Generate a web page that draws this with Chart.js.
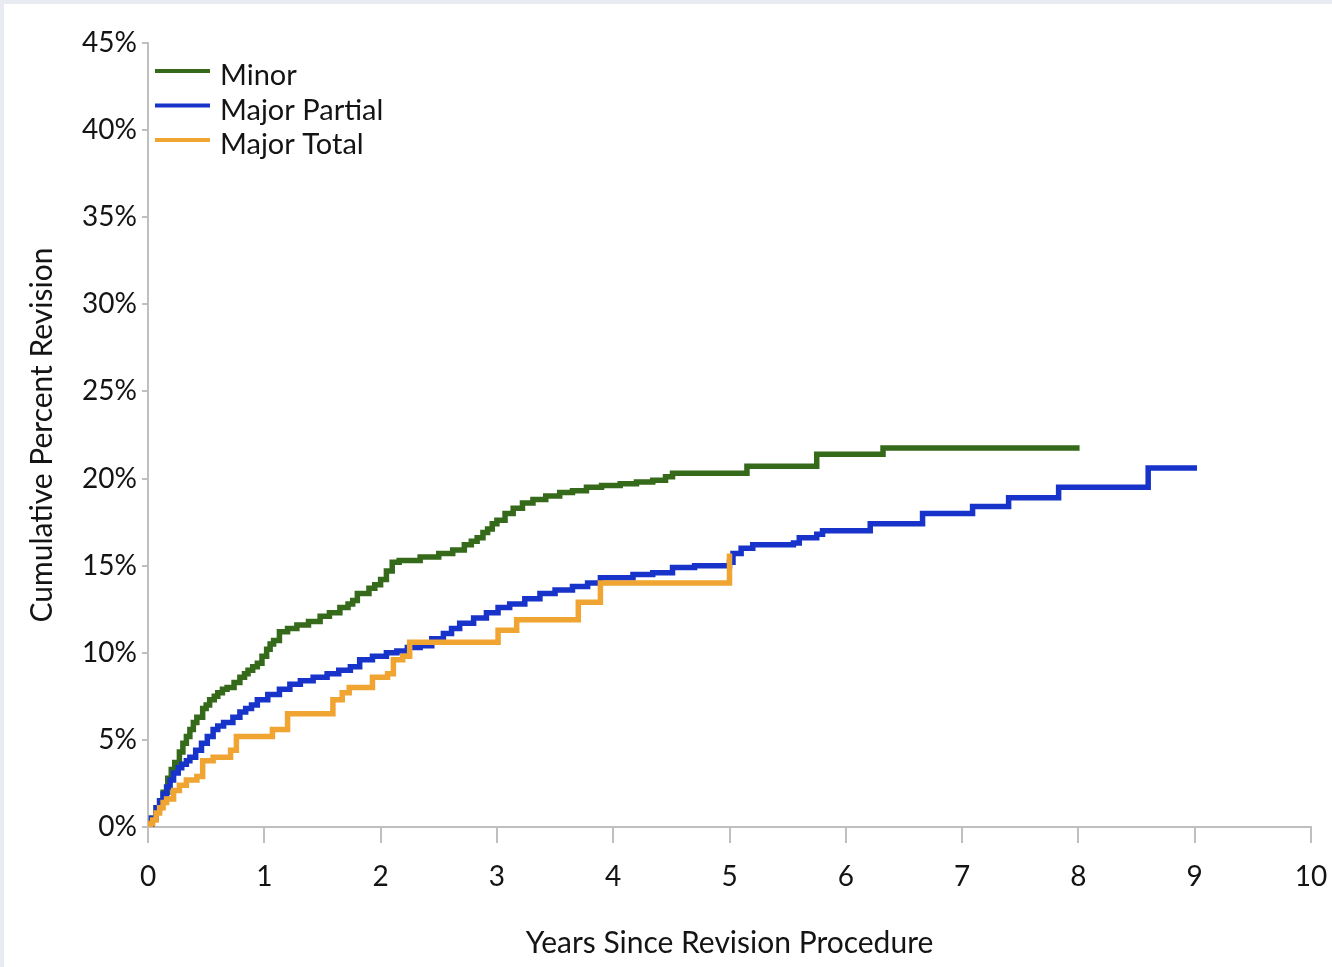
<!DOCTYPE html>
<html>
<head>
<meta charset="utf-8">
<script src="https://cdn.jsdelivr.net/npm/chart.js@4.4.1/dist/chart.umd.min.js"></script>
<style>
  html, body { margin: 0; padding: 0; background: #e8ecf2; overflow: hidden; }
  #wrap { position: absolute; left: 4px; top: 4px; width: 1328px; height: 963px; background: #fff; }
</style>
</head>
<body>
<div id="wrap"><canvas id="chart" width="1328" height="963"></canvas></div>
<script>
const seriesNames = ['Minor', 'Major Partial', 'Major Total'];
const seriesColors = ['#346a1a', '#1733c9', '#f0a432'];

const minorYears = [0, 0.03, 0.07, 0.1, 0.13, 0.17, 0.2, 0.23, 0.27, 0.3, 0.33, 0.36, 0.39, 0.42, 0.47, 0.5, 0.53, 0.57, 0.6, 0.64, 0.68, 0.74, 0.79, 0.83, 0.86, 0.9, 0.94, 0.98, 1.02, 1.05, 1.08, 1.13, 1.2, 1.28, 1.38, 1.48, 1.56, 1.65, 1.72, 1.76, 1.8, 1.9, 1.95, 2.0, 2.05, 2.1, 2.16, 2.34, 2.5, 2.62, 2.72, 2.78, 2.83, 2.88, 2.92, 2.96, 3.0, 3.07, 3.14, 3.22, 3.31, 3.42, 3.54, 3.65, 3.77, 3.9, 4.06, 4.2, 4.34, 4.45, 4.51, 5.15, 5.75, 6.32, 8.01];
const minorPct = [0, 0.5, 1.1, 1.5, 2.0, 2.8, 3.3, 3.7, 4.3, 4.8, 5.2, 5.6, 6.0, 6.3, 6.8, 7.0, 7.3, 7.5, 7.7, 7.9, 8.0, 8.3, 8.6, 8.8, 9.0, 9.2, 9.4, 9.8, 10.2, 10.5, 10.7, 11.2, 11.4, 11.6, 11.8, 12.1, 12.3, 12.6, 12.8, 13.0, 13.4, 13.7, 13.9, 14.2, 14.7, 15.2, 15.3, 15.5, 15.7, 15.9, 16.2, 16.4, 16.6, 16.9, 17.1, 17.4, 17.6, 18.0, 18.3, 18.6, 18.8, 19.0, 19.2, 19.3, 19.5, 19.6, 19.7, 19.8, 19.9, 20.1, 20.3, 20.7, 21.4, 21.75, 21.75];

const partialYears = [0, 0.03, 0.07, 0.1, 0.13, 0.16, 0.19, 0.22, 0.26, 0.29, 0.33, 0.36, 0.41, 0.46, 0.51, 0.56, 0.6, 0.65, 0.73, 0.79, 0.84, 0.89, 0.94, 1.03, 1.13, 1.22, 1.31, 1.42, 1.54, 1.64, 1.74, 1.82, 1.93, 2.05, 2.14, 2.23, 2.34, 2.44, 2.54, 2.61, 2.68, 2.8, 2.91, 3.01, 3.11, 3.24, 3.37, 3.5, 3.65, 3.78, 3.89, 4.17, 4.34, 4.51, 4.7, 4.92, 5.0, 5.03, 5.1, 5.2, 5.55, 5.6, 5.75, 5.8, 6.21, 6.66, 7.09, 7.4, 7.83, 8.6, 9.02];
const partialPct = [0, 0.5, 1.1, 1.5, 1.9, 2.3, 2.7, 3.1, 3.4, 3.6, 3.8, 4.0, 4.4, 4.8, 5.2, 5.6, 5.8, 6.0, 6.3, 6.6, 6.8, 7.0, 7.3, 7.6, 7.9, 8.2, 8.4, 8.6, 8.8, 9.0, 9.2, 9.6, 9.8, 10.0, 10.1, 10.3, 10.4, 10.8, 11.1, 11.4, 11.7, 12.0, 12.3, 12.6, 12.8, 13.1, 13.4, 13.6, 13.8, 14.0, 14.3, 14.5, 14.6, 14.9, 15.0, 15.0, 15.2, 15.7, 16.0, 16.2, 16.3, 16.6, 16.8, 17.0, 17.4, 18.0, 18.4, 18.9, 19.5, 20.6, 20.6];

const totalYears = [0, 0.02, 0.04, 0.07, 0.1, 0.13, 0.16, 0.22, 0.27, 0.33, 0.42, 0.47, 0.56, 0.71, 0.76, 1.07, 1.2, 1.59, 1.67, 1.73, 1.93, 2.06, 2.11, 2.19, 2.25, 3.01, 3.17, 3.7, 3.89, 5.0];
const totalPct = [0, 0.2, 0.4, 0.8, 1.1, 1.4, 1.6, 2.1, 2.4, 2.7, 2.9, 3.8, 4.0, 4.4, 5.2, 5.6, 6.5, 7.3, 7.7, 8.0, 8.6, 8.8, 9.6, 9.8, 10.6, 11.3, 11.9, 12.9, 14.0, 15.7];

const xTicks = [0, 1, 2, 3, 4, 5, 6, 7, 8, 9, 10];
const yTicks = [0, 5, 10, 15, 20, 25, 30, 35, 40, 45];

const toPoints = (xs, ys) => xs.map((x, i) => ({ x, y: ys[i] }));
const FONT = 'Lato, "Open Sans", sans-serif';
const TEXT = '#141414';
const AXIS_GREY = '#bfbfbf';

const stepLine = (i, xs, ys, order) => ({
  label: seriesNames[i],
  data: toPoints(xs, ys),
  borderColor: seriesColors[i],
  backgroundColor: seriesColors[i],
  borderWidth: 5.5,
  stepped: true,
  pointRadius: 0,
  fill: false,
  order
});

// legend drawn by hand so it sits as a column in the top-left of the plot
const legendLines = {
  id: 'legendLines',
  afterDatasetsDraw(chart) {
    const { ctx, chartArea } = chart;
    ctx.save();
    ctx.font = '29px ' + FONT;
    ctx.fillStyle = TEXT;
    ctx.textBaseline = 'alphabetic';
    seriesNames.forEach((name, i) => {
      const y = chartArea.top + 28 + i * 34.5;
      ctx.strokeStyle = seriesColors[i];
      ctx.lineWidth = 4;
      ctx.beginPath();
      ctx.moveTo(chartArea.left + 7, y);
      ctx.lineTo(chartArea.left + 62, y);
      ctx.stroke();
      ctx.fillText(name, chartArea.left + 72, y + 14);
    });
    ctx.restore();
  }
};

new Chart(document.getElementById('chart'), {
  type: 'line',
  data: {
    datasets: [
      stepLine(0, minorYears, minorPct, 2),
      stepLine(1, partialYears, partialPct, 1),
      stepLine(2, totalYears, totalPct, 0)
    ]
  },
  options: {
    responsive: false,
    animation: false,
    layout: { padding: { top: 39, right: 21, left: 0, bottom: 0 } },
    plugins: { legend: { display: false }, tooltip: { enabled: false } },
    scales: {
      x: {
        type: 'linear',
        min: 0,
        max: 10,
        afterBuildTicks: s => { s.ticks = xTicks.map(v => ({ value: v })); },
        afterFit: s => { s.height = 140; s.paddingLeft = 0; s.paddingRight = 0; },
        grid: { drawOnChartArea: false, tickLength: 16, color: AXIS_GREY, lineWidth: 2 },
        border: { color: AXIS_GREY, width: 2 },
        ticks: { color: TEXT, font: { family: FONT, size: 28 }, padding: 17, maxRotation: 0 },
        title: {
          display: true,
          text: 'Years Since Revision Procedure',
          color: TEXT,
          font: { family: FONT, size: 30 },
          padding: { top: 0, bottom: 6 }
        }
      },
      y: {
        min: 0,
        max: 45,
        afterBuildTicks: s => { s.ticks = yTicks.map(v => ({ value: v })); },
        afterFit: s => { s.width = 144; s.paddingTop = 0; s.paddingBottom = 0; },
        grid: { drawOnChartArea: false, tickLength: 6, color: AXIS_GREY, lineWidth: 2 },
        border: { color: AXIS_GREY, width: 2 },
        ticks: { color: TEXT, font: { family: FONT, size: 28 }, padding: 5, callback: v => v + '%' },
        title: {
          display: true,
          text: 'Cumulative Percent Revision',
          color: TEXT,
          font: { family: FONT, size: 30 },
          padding: { top: 20, bottom: 0 }
        }
      }
    }
  },
  plugins: [legendLines]
});
</script>
</body>
</html>
